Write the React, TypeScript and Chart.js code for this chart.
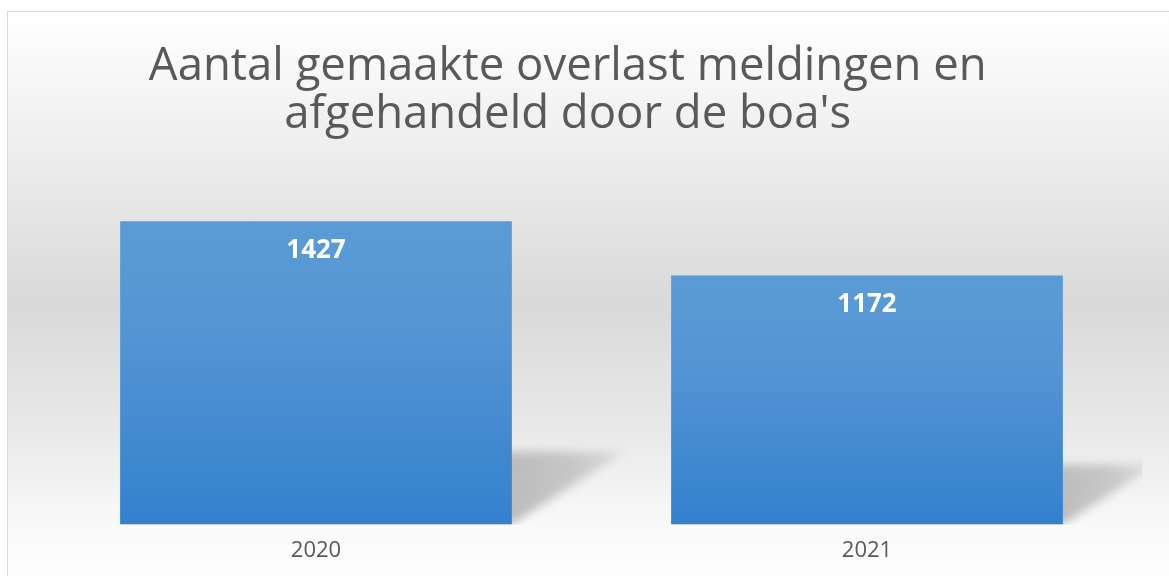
import React, { useEffect, useRef } from "react";
import { Chart, registerables } from "chart.js";

Chart.register(...registerables);

const categories: string[] = ["2020", "2021"];
const meldingen: number[] = [1427, 1172];
const titleLines: string[] = ["Aantal gemaakte overlast meldingen en", "afgehandeld door de boa's"];
const yMax = 1600;

const barShadowPlugin = {
  id: "barShadow",
  beforeDatasetsDraw(chart: any) {
    const meta = chart.getDatasetMeta(0);
    const area = chart.chartArea;
    const ctx = chart.ctx;
    ctx.save();
    ctx.beginPath();
    ctx.rect(area.left, area.top, area.right - area.left, area.bottom - area.top);
    ctx.clip();
    meta.data.forEach((bar: any) => {
      const { x, y, base, width } = bar.getProps(["x", "y", "base", "width"], true);
      const h = base - y;
      const left = x - width / 2;
      const right = x + width / 2;
      const sh = h * 0.24;
      const dx = h * 0.37;
      const g = ctx.createLinearGradient(right, base, right + dx, base - sh);
      g.addColorStop(0, "rgba(0,0,0,0.24)");
      g.addColorStop(0.6, "rgba(0,0,0,0.17)");
      g.addColorStop(1, "rgba(0,0,0,0.07)");
      ctx.filter = "blur(5px)";
      ctx.fillStyle = g;
      ctx.beginPath();
      ctx.moveTo(left + dx, base - sh);
      ctx.lineTo(right + dx, base - sh);
      ctx.lineTo(right, base);
      ctx.lineTo(left, base);
      ctx.closePath();
      ctx.fill();
      ctx.filter = "none";
    });
    ctx.restore();
  },
};

const valueLabelPlugin = {
  id: "valueLabels",
  afterDatasetsDraw(chart: any) {
    const meta = chart.getDatasetMeta(0);
    const ctx = chart.ctx;
    ctx.save();
    ctx.font = "bold 26px 'Open Sans'";
    ctx.fillStyle = "#ffffff";
    ctx.textAlign = "center";
    ctx.textBaseline = "middle";
    meta.data.forEach((bar: any, i: number) => {
      ctx.fillText(String(meldingen[i]), bar.x, bar.y + 29.5);
    });
    ctx.restore();
  },
};

export default function App() {
  const canvasRef = useRef<HTMLCanvasElement>(null);

  useEffect(() => {
    if (!canvasRef.current) return;
    const chart = new Chart(canvasRef.current, {
      type: "bar",
      data: {
        labels: categories,
        datasets: [
          {
            data: meldingen,
            backgroundColor: (c: any) => {
              const ch = c.chart;
              const area = ch.chartArea;
              const ys = ch.scales && ch.scales.y;
              if (!area || !ys || c.raw == null) return "#4a8fd2";
              const top = ys.getPixelForValue(c.raw);
              const bottom = ys.getPixelForValue(0);
              const g = ch.ctx.createLinearGradient(0, top, 0, bottom);
              g.addColorStop(0, "#5b9bd5");
              g.addColorStop(0.35, "#5595d4");
              g.addColorStop(1, "#3381cd");
              return g;
            },
            borderWidth: 0,
            barPercentage: 0.711,
            categoryPercentage: 1,
          },
        ],
      },
      options: {
        animation: false,
        responsive: true,
        maintainAspectRatio: false,
        layout: { padding: { left: 0, right: 26.5, top: 0, bottom: 1 } },
        plugins: {
          legend: { display: false },
          tooltip: { enabled: false },
          title: {
            display: true,
            text: titleLines,
            color: "#595959",
            font: { family: "'Open Sans'", size: 45.5, weight: "normal", lineHeight: 48 / 45.5 },
            padding: { top: 43, bottom: 45.4 },
          },
        },
        scales: {
          x: {
            grid: { display: false, drawTicks: false },
            border: { display: false },
            ticks: {
              color: "#595959",
              font: { family: "'Open Sans'", size: 22 },
              padding: 13,
            },
          },
          y: {
            min: 0,
            max: yMax,
            grid: { display: false, drawTicks: false },
            border: { display: false },
            ticks: { display: false },
            afterFit: (scale: any) => {
              scale.width = 47.5;
            },
          },
        },
      },
      plugins: [barShadowPlugin, valueLabelPlugin],
    });
    return () => chart.destroy();
  }, []);

  return (
    <div style={{ position: "absolute", left: 0, top: 0, width: 1169, height: 576, overflow: "hidden", background: "#ffffff" }}>
      <div
        style={{
          position: "absolute",
          left: 7,
          top: 11,
          width: 1220,
          height: 620,
          border: "1px solid #d9d9d9",
          background: "linear-gradient(to bottom, #ffffff 0px, #ececec 150px, #d9d9d9 290px, #e9e9e9 420px, #fafafa 520px, #ffffff 580px)",
        }}
      />
      <div style={{ position: "absolute", left: -7, top: 0, width: 1176, height: 578 }}>
        <canvas ref={canvasRef} />
      </div>
    </div>
  );
}
